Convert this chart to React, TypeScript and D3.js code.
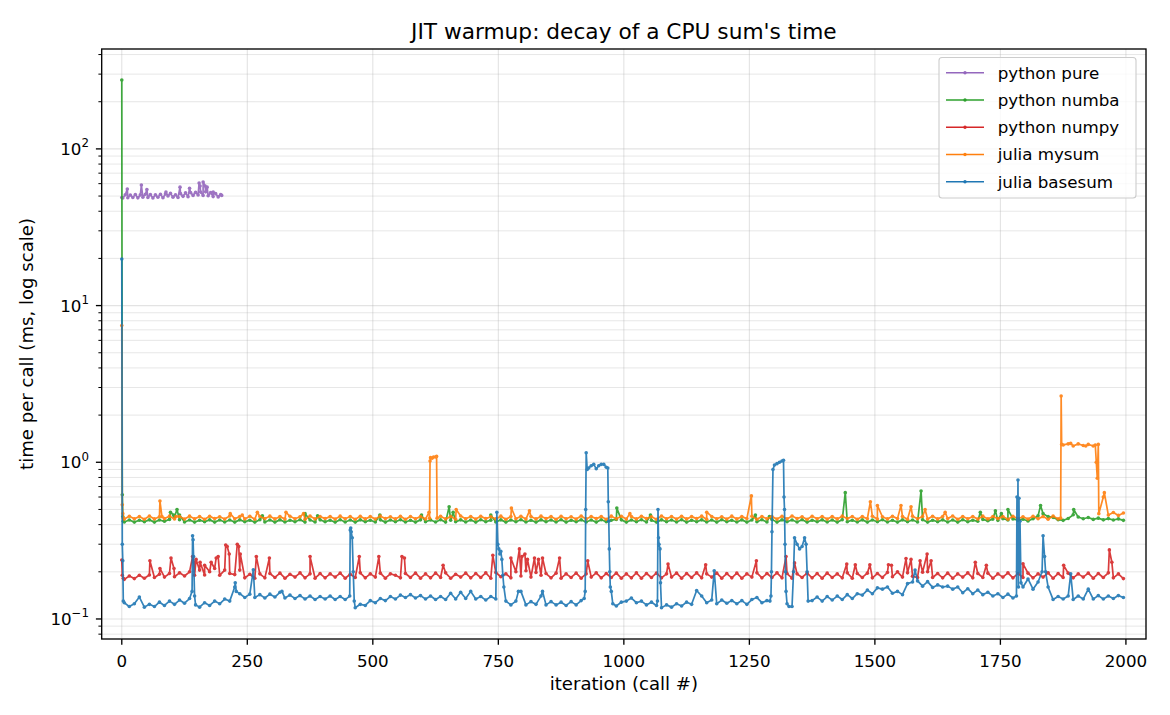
import React from "react";
import * as d3 from "d3";

// ---------- data ----------
// Baseline readings every 10 iterations (iter 5, 15, ..., 1995) + extra points (warmup, spikes, jumps)
const LEVEL_START = 5;
const LEVEL_STEP = 10;

const pureLevels = [
  48.6, 51, 48.8, 50.8, 49, 51.2, 48.7, 50.9, 49.2, 51.3,
  48.9, 51.1, 48.6, 51, 49.1, 51.4, 48.8, 51.6, 50, 52,
  49.2, 51, 48.9, 51.8, 49.8, 52.4, 49.5, 52.6, 50.5, 52.8,
  50.8, 53, 50.5, 53.2, 50.2, 52.6, 49.6, 51.8, 49.4, 51.2,
];
const PURE_START = 2;
const PURE_STEP = 5;
const pureEvents: [number, number][] = [
  [0, 49], [11, 55.5], [39, 58.8], [50, 55], [88, 53], [116, 57], [135, 56],
  [154, 60.5], [156, 58], [162, 61.5], [166, 58], [170, 57], [182, 53], [199, 50.5],
];

const numbaLevels = [
  0.416, 0.428, 0.415, 0.427, 0.417, 0.429, 0.415, 0.428, 0.42, 0.432,
  0.45, 0.43, 0.416, 0.428, 0.415, 0.427, 0.417, 0.429, 0.415, 0.428,
  0.416, 0.428, 0.415, 0.429, 0.417, 0.427, 0.415, 0.43, 0.416, 0.428,
  0.415, 0.429, 0.416, 0.427, 0.417, 0.43, 0.415, 0.428, 0.416, 0.429,
  0.417, 0.427, 0.415, 0.43, 0.416, 0.428, 0.415, 0.429, 0.417, 0.427,
  0.416, 0.429, 0.415, 0.428, 0.417, 0.43, 0.416, 0.427, 0.415, 0.429,
  0.417, 0.428, 0.416, 0.43, 0.415, 0.427, 0.417, 0.429, 0.416, 0.428,
  0.415, 0.43, 0.417, 0.427, 0.416, 0.429, 0.415, 0.428, 0.417, 0.43,
  0.416, 0.427, 0.415, 0.429, 0.417, 0.428, 0.416, 0.43, 0.415, 0.427,
  0.417, 0.429, 0.416, 0.428, 0.415, 0.43, 0.417, 0.427, 0.432, 0.429,
  0.415, 0.428, 0.417, 0.43, 0.416, 0.427, 0.415, 0.429, 0.417, 0.428,
  0.416, 0.43, 0.415, 0.427, 0.417, 0.429, 0.416, 0.428, 0.415, 0.43,
  0.417, 0.427, 0.416, 0.429, 0.415, 0.428, 0.417, 0.43, 0.416, 0.432,
  0.415, 0.429, 0.417, 0.428, 0.416, 0.43, 0.415, 0.427, 0.417, 0.429,
  0.416, 0.428, 0.415, 0.43, 0.417, 0.427, 0.416, 0.429, 0.415, 0.428,
  0.417, 0.43, 0.416, 0.427, 0.415, 0.429, 0.417, 0.428, 0.416, 0.43,
  0.415, 0.427, 0.417, 0.429, 0.416, 0.428, 0.415, 0.43, 0.417, 0.427,
  0.42, 0.432, 0.423, 0.434, 0.426, 0.436, 0.428, 0.435, 0.427, 0.433,
  0.422, 0.436, 0.455, 0.47, 0.45, 0.445, 0.43, 0.426, 0.438, 0.462,
  0.447, 0.436, 0.444, 0.432, 0.44, 0.429, 0.437, 0.428, 0.435, 0.426,
];
const numbaEvents: [number, number][] = [
  [0, 275], [1, 0.62], [2, 0.45], [3, 0.42],
  [97, 0.48], [103, 0.46], [110, 0.5], [115, 0.46], [280, 0.455], [365, 0.47],
  [390, 0.455], [514, 0.46], [597, 0.46], [652, 0.52], [660, 0.48], [735, 0.46],
  [986, 0.51], [1053, 0.46], [1262, 0.46], [1290, 0.45], [1441, 0.64], [1592, 0.656],
  [1710, 0.48], [1740, 0.49], [1752, 0.47], [1765, 0.5], [1830, 0.53], [1896, 0.5],
];

const numpyLevels = [
  0.179, 0.188, 0.181, 0.19, 0.182, 0.191, 0.184, 0.193, 0.185, 0.195,
  0.186, 0.197, 0.188, 0.2, 0.19, 0.205, 0.191, 0.2, 0.21, 0.19,
  0.205, 0.195, 0.192, 0.205, 0.183, 0.193, 0.182, 0.194, 0.183, 0.195,
  0.184, 0.196, 0.182, 0.193, 0.185, 0.197, 0.183, 0.194, 0.182, 0.195,
  0.183, 0.194, 0.185, 0.196, 0.182, 0.193, 0.184, 0.197, 0.183, 0.194,
  0.185, 0.196, 0.182, 0.194, 0.19, 0.183, 0.195, 0.184, 0.196, 0.182,
  0.194, 0.183, 0.196, 0.184, 0.197, 0.182, 0.193, 0.185, 0.196, 0.183,
  0.195, 0.184, 0.197, 0.182, 0.198, 0.186, 0.194, 0.183, 0.2, 0.188,
  0.203, 0.185, 0.198, 0.19, 0.195, 0.183, 0.196, 0.182, 0.194, 0.184,
  0.196, 0.182, 0.194, 0.185, 0.197, 0.183, 0.195, 0.184, 0.196, 0.182,
  0.194, 0.183, 0.197, 0.182, 0.195, 0.184, 0.196, 0.183, 0.194, 0.185,
  0.196, 0.182, 0.195, 0.184, 0.197, 0.183, 0.194, 0.185, 0.196, 0.182,
  0.195, 0.183, 0.196, 0.182, 0.194, 0.185, 0.197, 0.183, 0.195, 0.184,
  0.197, 0.183, 0.195, 0.182, 0.194, 0.184, 0.196, 0.183, 0.195, 0.182,
  0.196, 0.184, 0.194, 0.183, 0.197, 0.182, 0.195, 0.184, 0.196, 0.183,
  0.195, 0.184, 0.198, 0.186, 0.2, 0.185, 0.197, 0.187, 0.184, 0.199,
  0.2, 0.184, 0.195, 0.183, 0.196, 0.182, 0.194, 0.185, 0.197, 0.183,
  0.195, 0.184, 0.196, 0.182, 0.194, 0.185, 0.197, 0.183, 0.195, 0.184,
  0.196, 0.183, 0.194, 0.185, 0.197, 0.182, 0.195, 0.184, 0.196, 0.183,
  0.194, 0.185, 0.196, 0.182, 0.195, 0.184, 0.197, 0.183, 0.194, 0.181,
];
const numpyEvents: [number, number][] = [
  [0, 0.238], [1, 0.19], [3, 0.182],
  [56, 0.235], [76, 0.21], [98, 0.245], [104, 0.21], [141, 0.25], [144, 0.23],
  [148, 0.24], [156, 0.23], [165, 0.22], [178, 0.23], [188, 0.245], [192, 0.25],
  [207, 0.296], [210, 0.29], [214, 0.26], [230, 0.3], [233, 0.29], [236, 0.26],
  [268, 0.25], [294, 0.245], [375, 0.25], [473, 0.25], [512, 0.25], [558, 0.25],
  [563, 0.245], [640, 0.22], [739, 0.255], [775, 0.245], [792, 0.28], [797, 0.25],
  [803, 0.26], [808, 0.24], [822, 0.245], [830, 0.24], [838, 0.245], [872, 0.245],
  [928, 0.235], [1088, 0.224], [1163, 0.222], [1264, 0.235], [1323, 0.25],
  [1340, 0.228], [1444, 0.224], [1461, 0.222], [1490, 0.222], [1527, 0.222],
  [1533, 0.22], [1562, 0.243], [1572, 0.24], [1590, 0.235], [1604, 0.26],
  [1612, 0.235], [1700, 0.23], [1722, 0.22], [1795, 0.225], [1876, 0.22],
  [1967, 0.276], [1972, 0.23],
];

const mysumLevels = [
  0.434, 0.452, 0.436, 0.45, 0.433, 0.454, 0.435, 0.449, 0.437, 0.453,
  0.435, 0.451, 0.434, 0.453, 0.436, 0.45, 0.433, 0.452, 0.437, 0.449,
  0.434, 0.454, 0.436, 0.45, 0.435, 0.452, 0.433, 0.451, 0.437, 0.453,
  0.435, 0.45, 0.434, 0.452, 0.436, 0.449, 0.433, 0.454, 0.435, 0.451,
  0.437, 0.45, 0.434, 0.453, 0.436, 0.451, 0.433, 0.452, 0.435, 0.45,
  0.434, 0.453, 0.437, 0.449, 0.435, 0.452, 0.433, 0.451, 0.436, 0.45,
  0.434, 1.07, 1.08, 0.452, 0.435, 0.45, 0.433, 0.454, 0.436, 0.451,
  0.434, 0.452, 0.437, 0.449, 0.435, 0.453, 0.433, 0.45, 0.436, 0.452,
  0.434, 0.451, 0.435, 0.453, 0.437, 0.45, 0.433, 0.452, 0.436, 0.449,
  0.434, 0.454, 0.435, 0.451, 0.437, 0.45, 0.433, 0.453, 0.436, 0.452,
  0.434, 0.45, 0.435, 0.452, 0.437, 0.449, 0.433, 0.454, 0.436, 0.451,
  0.434, 0.452, 0.435, 0.45, 0.437, 0.453, 0.433, 0.451, 0.436, 0.449,
  0.434, 0.453, 0.435, 0.45, 0.437, 0.452, 0.433, 0.451, 0.436, 0.45,
  0.434, 0.452, 0.435, 0.454, 0.437, 0.449, 0.433, 0.452, 0.436, 0.451,
  0.434, 0.45, 0.435, 0.453, 0.437, 0.451, 0.433, 0.45, 0.436, 0.452,
  0.434, 0.449, 0.435, 0.452, 0.437, 0.45, 0.433, 0.453, 0.436, 0.451,
  0.434, 0.452, 0.435, 0.45, 0.437, 0.454, 0.433, 0.451, 0.436, 0.45,
  0.434, 0.453, 0.435, 0.451, 0.437, 0.45, 0.433, 0.452, 0.436, 0.449,
  0.434, 0.452, 0.436, 0.45, 0.433, 0.454, 0.435, 1.29, 1.31, 1.27,
  1.31, 1.28, 1.3, 1.27, 1.3, 0.6, 0.46, 0.478, 0.458, 0.475,
];
const mysumEvents: [number, number][] = [
  [0, 7.45], [1, 0.535], [2, 0.47], [3, 0.44],
  [76, 0.566], [80, 0.45], [108, 0.45], [216, 0.47], [240, 0.46], [270, 0.48],
  [327, 0.48], [362, 0.47], [612, 0.48], [613, 0.44], [614, 1.02], [618, 1.06],
  [621, 1.08], [627, 1.09], [628, 0.44], [666, 0.5], [776, 0.51], [812, 0.49],
  [1012, 0.47], [1165, 0.48], [1254, 0.61], [1491, 0.56], [1505, 0.53],
  [1552, 0.53], [1572, 0.52], [1600, 0.5], [1640, 0.48], [1870, 0.44],
  [1871, 2.65], [1872, 1.3], [1890, 1.32], [1920, 1.27], [1939, 1.29],
  [1941, 1.0], [1943, 0.79], [1946, 0.47], [1957, 0.64],
];

const basesumLevels = [
  0.127, 0.12, 0.125, 0.138, 0.119, 0.124, 0.12, 0.128, 0.122, 0.13,
  0.124, 0.132, 0.126, 0.135, 0.14, 0.119, 0.127, 0.122, 0.13, 0.125,
  0.134, 0.13, 0.16, 0.145, 0.137, 0.144, 0.137, 0.143, 0.136, 0.144,
  0.138, 0.148, 0.136, 0.142, 0.135, 0.141, 0.134, 0.14, 0.133, 0.139,
  0.134, 0.14, 0.133, 0.139, 0.133, 0.37, 0.118, 0.124, 0.122, 0.131,
  0.127, 0.135, 0.131, 0.139, 0.134, 0.142, 0.137, 0.143, 0.136, 0.141,
  0.134, 0.14, 0.133, 0.139, 0.133, 0.146, 0.134, 0.148, 0.135, 0.15,
  0.134, 0.139, 0.132, 0.139, 0.134, 0.27, 0.13, 0.123, 0.13, 0.15,
  0.123, 0.129, 0.124, 0.14, 0.123, 0.129, 0.123, 0.128, 0.122, 0.129,
  0.123, 0.131, 1.15, 0.95, 0.91, 0.97, 0.93, 0.15, 0.121, 0.128,
  0.13, 0.136, 0.127, 0.13, 0.123, 0.128, 0.122, 0.118, 0.123, 0.119,
  0.125, 0.121, 0.128, 0.124, 0.152, 0.14, 0.127, 0.132, 0.125, 0.132,
  0.126, 0.131, 0.125, 0.131, 0.124, 0.133, 0.137, 0.127, 0.131, 0.36,
  0.98, 1.02, 0.125, 0.12, 0.3, 0.29, 0.2, 0.131, 0.138, 0.13,
  0.139, 0.132, 0.14, 0.133, 0.143, 0.135, 0.145, 0.142, 0.153, 0.145,
  0.158, 0.155, 0.16, 0.146, 0.15, 0.143, 0.168, 0.172, 0.175, 0.162,
  0.173, 0.159, 0.165, 0.16, 0.162, 0.155, 0.16, 0.147, 0.156, 0.145,
  0.153, 0.143, 0.148, 0.14, 0.145, 0.137, 0.144, 0.136, 0.77, 0.16,
  0.18, 0.155, 0.172, 0.34, 0.16, 0.133, 0.139, 0.134, 0.14, 0.133,
  0.14, 0.134, 0.155, 0.134, 0.141, 0.134, 0.14, 0.135, 0.141, 0.137,
];
const basesumEvents: [number, number][] = [
  [0, 19.8], [1, 0.3], [2, 0.235], [3, 0.13],
  [140, 0.15], [141, 0.34], [142, 0.32], [143, 0.25], [147, 0.123],
  [226, 0.17], [228, 0.15], [262, 0.206], [319, 0.15],
  [454, 0.14], [456, 0.38], [457, 0.36], [459, 0.33], [461, 0.2], [463, 0.13],
  [747, 0.48], [749, 0.3], [751, 0.28], [753, 0.26], [757, 0.24], [759, 0.19], [761, 0.16],
  [790, 0.15], [838, 0.15],
  [921, 0.135], [923, 0.15], [924, 0.5], [927, 0.9], [930, 0.92], [940, 0.97],
  [950, 0.95], [960, 0.97], [968, 0.92], [969, 0.56], [970, 0.42], [971, 0.28],
  [972, 0.2], [973, 0.16], [978, 0.125],
  [1067, 0.13], [1068, 0.5], [1069, 0.33], [1070, 0.3], [1072, 0.28], [1073, 0.17],
  [1180, 0.203],
  [1291, 0.13], [1293, 0.14], [1294, 0.2], [1297, 0.9], [1300, 0.96], [1310, 1.0],
  [1318, 1.03], [1319, 0.6], [1320, 0.5], [1321, 0.3], [1322, 0.2], [1323, 0.15],
  [1329, 0.12], [1338, 0.2], [1340, 0.33], [1350, 0.28], [1360, 0.33], [1363, 0.3],
  [1367, 0.13], [1580, 0.205],
  [1782, 0.14], [1783, 0.6], [1784, 0.2], [1786, 0.16], [1787, 0.59], [1788, 0.2],
  [1789, 0.42], [1791, 0.17], [1833, 0.2], [1838, 0.25], [1840, 0.2], [1890, 0.194],
];

const seriesNames = ["python pure", "python numba", "python numpy", "julia mysum", "julia basesum"];
const seriesColors = ["#9467bd", "#2ca02c", "#d62728", "#ff7f0e", "#1f77b4"];

const xTicks = [0, 250, 500, 750, 1000, 1250, 1500, 1750, 2000];
const yMajorExps = [-1, 0, 1, 2];

const TITLE = "JIT warmup: decay of a CPU sum's time";
const XLABEL = "iteration (call #)";
const YLABEL = "time per call (ms, log scale)";

// ---------- helpers ----------
type Pt = { x: number; y: number };
function build(levels: number[], start: number, step: number, events: [number, number][]): Pt[] {
  const pts: Pt[] = levels.map((v, i) => ({ x: start + step * i, y: v }));
  events.forEach(([x, y]) => pts.push({ x, y }));
  pts.sort((a, b) => a.x - b.x);
  return pts;
}

const allSeries: Pt[][] = [
  build(pureLevels, PURE_START, PURE_STEP, pureEvents),
  build(numbaLevels, LEVEL_START, LEVEL_STEP, numbaEvents),
  build(numpyLevels, LEVEL_START, LEVEL_STEP, numpyEvents),
  build(mysumLevels, LEVEL_START, LEVEL_STEP, mysumEvents),
  build(basesumLevels, LEVEL_START, LEVEL_STEP, basesumEvents),
];

const W = 1170;
const H = 715;
const L = 101.7, R = 1146, T = 49, B = 639;
const FONT = "DejaVu Sans, Verdana, sans-serif";
const TICK_FS = 16.7;
const LABEL_FS = 18.1;
const TITLE_FS = 21.7;

export default function App() {
  const x = d3.scaleLinear().domain([-40, 2040]).range([L, R]);
  const y = d3.scaleLog().domain([0.0745, 434]).range([B, T]);
  const line = d3.line<Pt>().x((d) => x(d.x)).y((d) => y(d.y));

  const minor: number[] = [];
  for (let e = -2; e <= 2; e++) {
    for (let m = 2; m <= 9; m++) {
      const v = m * Math.pow(10, e);
      if (v >= 0.0745 && v <= 434) minor.push(v);
    }
  }
  const gridColor = "#b0b0b0";

  const legendX = 939, legendY = 57.5, legendW = 197, legendH = 140.5;
  const rowY = (i: number) => legendY + 15.2 + i * 27.25;

  return (
    <svg
      width={W}
      height={H}
      style={{ position: "absolute", left: 0, top: 0, background: "#fff" }}
      fontFamily={FONT}
    >
      <rect x={0} y={0} width={W} height={H} fill="#fff" />
      <defs>
        <clipPath id="plot">
          <rect x={L} y={T} width={R - L} height={B - T} />
        </clipPath>
      </defs>
      {/* grid */}
      <g>
        {minor.map((v) => (
          <line key={"mg" + v} x1={L} x2={R} y1={y(v)} y2={y(v)} stroke={gridColor} strokeOpacity={0.3} strokeWidth={1} />
        ))}
        {yMajorExps.map((e) => (
          <line key={"yg" + e} x1={L} x2={R} y1={y(Math.pow(10, e))} y2={y(Math.pow(10, e))} stroke={gridColor} strokeOpacity={0.35} strokeWidth={1.1} />
        ))}
        {xTicks.map((t) => (
          <line key={"xg" + t} x1={x(t)} x2={x(t)} y1={T} y2={B} stroke={gridColor} strokeOpacity={0.35} strokeWidth={1.1} />
        ))}
      </g>
      {/* series */}
      <g clipPath="url(#plot)">
        {allSeries.map((pts, si) => (
          <g key={"s" + si} opacity={0.9}>
            <path d={line(pts) || ""} fill="none" stroke={seriesColors[si]} strokeWidth={1.7} strokeLinejoin="round" />
            {pts.map((p, pi) => (
              <circle key={pi} cx={x(p.x)} cy={y(p.y)} r={1.8} fill={seriesColors[si]} />
            ))}
          </g>
        ))}
      </g>
      {/* spines */}
      <rect x={L} y={T} width={R - L} height={B - T} fill="none" stroke="#000" strokeWidth={1.33} />
      {/* x ticks */}
      {xTicks.map((t) => (
        <g key={"xt" + t}>
          <line x1={x(t)} x2={x(t)} y1={B} y2={B + 5.8} stroke="#000" strokeWidth={1.33} />
          <text x={x(t)} y={667} textAnchor="middle" fontSize={TICK_FS} fill="#000">
            {t}
          </text>
        </g>
      ))}
      {/* y ticks */}
      {minor.map((v) => (
        <line key={"ymt" + v} x1={L - 3.3} x2={L} y1={y(v)} y2={y(v)} stroke="#000" strokeWidth={1} />
      ))}
      {yMajorExps.map((e) => (
        <g key={"yt" + e}>
          <line x1={L - 5.8} x2={L} y1={y(Math.pow(10, e))} y2={y(Math.pow(10, e))} stroke="#000" strokeWidth={1.33} />
          <text x={89} y={y(Math.pow(10, e)) + 6} textAnchor="end" fontSize={TICK_FS} fill="#000">
            <tspan>10</tspan>
            <tspan dy={-7.5} fontSize={11.8}>{e < 0 ? "\u2212" + Math.abs(e) : String(e)}</tspan>
          </text>
        </g>
      ))}
      {/* labels */}
      <text x={(L + R) / 2} y={39.3} textAnchor="middle" fontSize={TITLE_FS} fill="#000">
        {TITLE}
      </text>
      <text x={(L + R) / 2} y={690} textAnchor="middle" fontSize={LABEL_FS} fill="#000">
        {XLABEL}
      </text>
      <text transform={`translate(33.3, ${(T + B) / 2}) rotate(-90)`} textAnchor="middle" fontSize={LABEL_FS} fill="#000">
        {YLABEL}
      </text>
      {/* legend */}
      <g>
        <rect x={legendX} y={legendY} width={legendW} height={legendH} rx={3} fill="#fff" fillOpacity={0.8} stroke="#cccccc" strokeWidth={1.1} />
        {seriesNames.map((n, i) => (
          <g key={"lg" + i}>
            <line x1={946} x2={984} y1={rowY(i)} y2={rowY(i)} stroke={seriesColors[i]} strokeWidth={1.4} />
            <circle cx={965} cy={rowY(i)} r={1.7} fill={seriesColors[i]} />
            <text x={997.7} y={rowY(i) + 6} fontSize={TICK_FS} fill="#000">
              {n}
            </text>
          </g>
        ))}
      </g>
    </svg>
  );
}
